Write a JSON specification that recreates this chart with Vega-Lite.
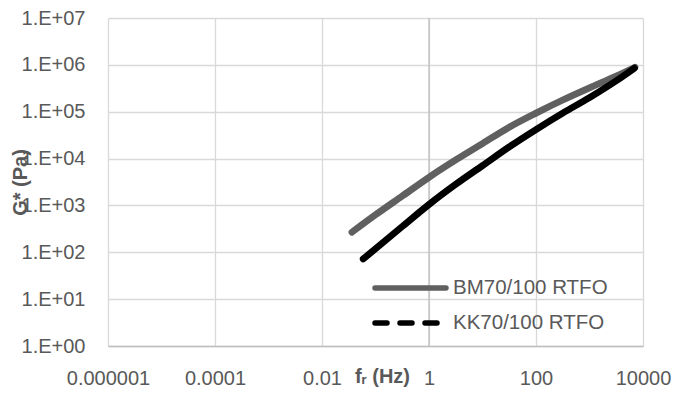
{
  "$schema": "https://vega.github.io/schema/vega-lite/v6.json",
  "width": 535,
  "height": 328,
  "autosize": {"type": "none"},
  "padding": {"left": 108, "top": 18, "right": 33, "bottom": 59},
  "background": "white",
  "config": {"view": {"stroke": null}, "font": "Liberation Sans"},
  "layer": [
    {
      "data": {"values": [{"f": 1}]},
      "mark": {"type": "rule", "color": "#bfbfbf", "strokeWidth": 1.3},
      "encoding": {
        "x": {"field": "f", "type": "quantitative", "scale": {"type": "log", "domain": [0.000001, 10000]}}
      }
    },
    {
      "data": {
        "values": [
          {"series": "BM70/100 RTFO", "f": 0.0363, "G": 269},
          {"series": "BM70/100 RTFO", "f": 0.1, "G": 631},
          {"series": "BM70/100 RTFO", "f": 0.316, "G": 1585},
          {"series": "BM70/100 RTFO", "f": 1, "G": 3981},
          {"series": "BM70/100 RTFO", "f": 3.16, "G": 9333},
          {"series": "BM70/100 RTFO", "f": 10, "G": 20893},
          {"series": "BM70/100 RTFO", "f": 31.6, "G": 46774},
          {"series": "BM70/100 RTFO", "f": 100, "G": 93325},
          {"series": "BM70/100 RTFO", "f": 316, "G": 177828},
          {"series": "BM70/100 RTFO", "f": 1000, "G": 323594},
          {"series": "BM70/100 RTFO", "f": 3162, "G": 575440},
          {"series": "BM70/100 RTFO", "f": 7079, "G": 891251},
          {"series": "KK70/100 RTFO", "f": 0.0589, "G": 72},
          {"series": "KK70/100 RTFO", "f": 0.316, "G": 355},
          {"series": "KK70/100 RTFO", "f": 1, "G": 1047},
          {"series": "KK70/100 RTFO", "f": 3.16, "G": 2818},
          {"series": "KK70/100 RTFO", "f": 10, "G": 7079},
          {"series": "KK70/100 RTFO", "f": 31.6, "G": 17783},
          {"series": "KK70/100 RTFO", "f": 100, "G": 41687},
          {"series": "KK70/100 RTFO", "f": 316, "G": 93325},
          {"series": "KK70/100 RTFO", "f": 1000, "G": 199526},
          {"series": "KK70/100 RTFO", "f": 3162, "G": 457088},
          {"series": "KK70/100 RTFO", "f": 6918, "G": 851138}
        ]
      },
      "mark": {"type": "line", "strokeWidth": 6.8, "strokeCap": "round", "strokeJoin": "round", "interpolate": "monotone"},
      "encoding": {
        "x": {
          "field": "f",
          "type": "quantitative",
          "scale": {"type": "log", "domain": [0.000001, 10000]},
          "axis": {
            "values": [0.000001, 0.0001, 0.01, 1, 100, 10000],
            "format": "~f",
            "labelFont": "Liberation Sans",
            "labelFontSize": 20,
            "labelColor": "#595959",
            "labelPadding": 22,
            "labelFlush": false,
            "ticks": false,
            "domainColor": "#bfbfbf",
            "domainWidth": 1.3,
            "gridColor": "#d9d9d9",
            "gridWidth": 1.3,
            "title": "fᵣ (Hz)",
            "titleFont": "Liberation Sans",
            "titleFontSize": 20,
            "titleFontWeight": "bold",
            "titleColor": "#595959",
            "titleX": 274,
            "titleY": 36,
            "titleAlign": "center",
            "titleBaseline": "alphabetic"
          }
        },
        "y": {
          "field": "G",
          "type": "quantitative",
          "scale": {"type": "log", "domain": [1, 10000000]},
          "axis": {
            "values": [1, 10, 100, 1000, 10000, 100000, 1000000, 10000000],
            "labelExpr": "'1.E+0' + round(log(datum.value)/LN10)",
            "labelFont": "Liberation Sans",
            "labelFontSize": 20,
            "labelColor": "#595959",
            "labelPadding": 23,
            "labelFlush": false,
            "ticks": false,
            "domain": false,
            "gridColor": "#d9d9d9",
            "gridWidth": 1.3,
            "title": "G* (Pa)",
            "titleFont": "Liberation Sans",
            "titleFontSize": 20,
            "titleFontWeight": "bold",
            "titleColor": "#595959",
            "titleX": -88,
            "titleY": 164,
            "titleAngle": 270,
            "titleAlign": "center",
            "titleBaseline": "middle"
          }
        },
        "color": {
          "field": "series",
          "type": "nominal",
          "scale": {"domain": ["BM70/100 RTFO", "KK70/100 RTFO"], "range": ["#606060", "#000000"]},
          "legend": {
            "title": null,
            "orient": "none",
            "legendX": 264,
            "legendY": 259,
            "padding": 0,
            "symbolType": "stroke",
            "symbolSize": 5041,
            "symbolStrokeWidth": 5.5,
            "clipHeight": 22,
            "rowPadding": 13,
            "labelOffset": 4,
            "labelFont": "Liberation Sans",
            "labelFontSize": 20.5,
            "labelColor": "#595959",
            "encode": {
              "symbols": {
                "update": {
                  "strokeDash": {"signal": "datum.label === 'KK70/100 RTFO' ? [12, 13] : [1, 0]"},
                  "strokeCap": {"value": "round"}
                }
              }
            }
          }
        },
        "order": {"field": "f", "type": "quantitative"}
      }
    }
  ]
}
